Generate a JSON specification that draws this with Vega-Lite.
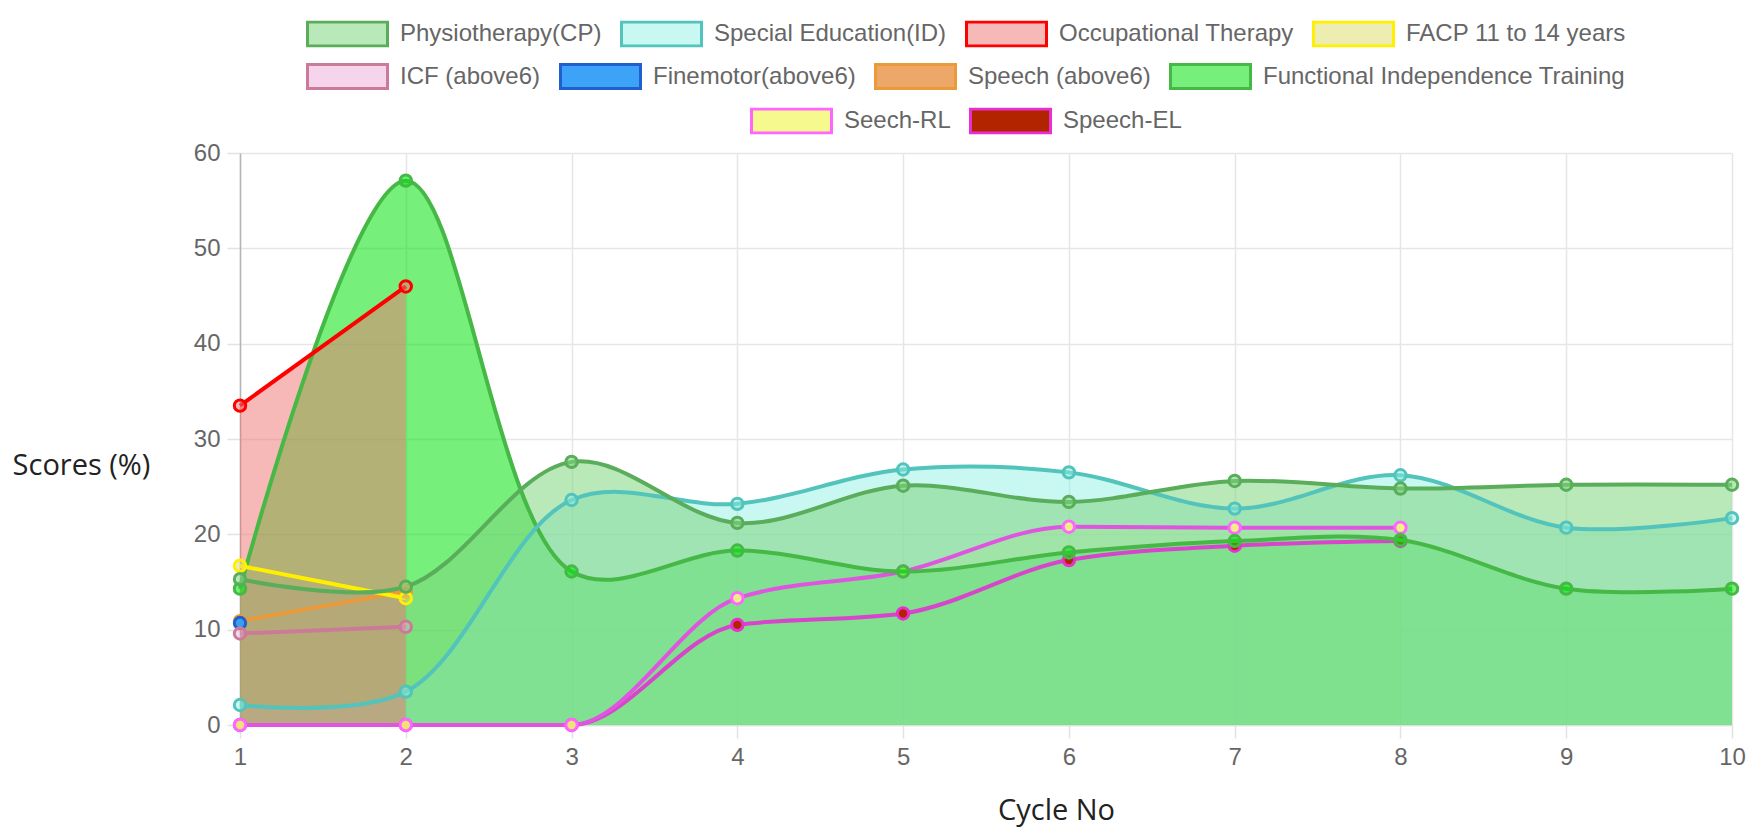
{
  "$schema": "https://vega.github.io/schema/vega-lite/v6.json",
  "width": 1492,
  "height": 572,
  "autosize": "none",
  "padding": {"left": 240, "top": 153, "right": 22, "bottom": 103},
  "background": "white",
  "data": {
    "values": [
      {"series": "Functional Independence Training", "cycle": 1, "value": 14.3},
      {"series": "Functional Independence Training", "cycle": 2, "value": 57.1},
      {"series": "Functional Independence Training", "cycle": 3, "value": 16.1},
      {"series": "Functional Independence Training", "cycle": 4, "value": 18.3},
      {"series": "Functional Independence Training", "cycle": 5, "value": 16.1},
      {"series": "Functional Independence Training", "cycle": 6, "value": 18.1},
      {"series": "Functional Independence Training", "cycle": 7, "value": 19.3},
      {"series": "Functional Independence Training", "cycle": 8, "value": 19.4},
      {"series": "Functional Independence Training", "cycle": 9, "value": 14.3},
      {"series": "Functional Independence Training", "cycle": 10, "value": 14.3},
      {"series": "Speech (above6)", "cycle": 1, "value": 10.9},
      {"series": "Speech (above6)", "cycle": 2, "value": 14.0},
      {"series": "Finemotor(above6)", "cycle": 1, "value": 10.7},
      {"series": "ICF (above6)", "cycle": 1, "value": 9.6},
      {"series": "ICF (above6)", "cycle": 2, "value": 10.3},
      {"series": "FACP 11 to 14 years", "cycle": 1, "value": 16.7},
      {"series": "FACP 11 to 14 years", "cycle": 2, "value": 13.3},
      {"series": "Occupational Therapy", "cycle": 1, "value": 33.5},
      {"series": "Occupational Therapy", "cycle": 2, "value": 46.0},
      {"series": "Special Education(ID)", "cycle": 1, "value": 2.1},
      {"series": "Special Education(ID)", "cycle": 2, "value": 3.5},
      {"series": "Special Education(ID)", "cycle": 3, "value": 23.6},
      {"series": "Special Education(ID)", "cycle": 4, "value": 23.2},
      {"series": "Special Education(ID)", "cycle": 5, "value": 26.8},
      {"series": "Special Education(ID)", "cycle": 6, "value": 26.5},
      {"series": "Special Education(ID)", "cycle": 7, "value": 22.7},
      {"series": "Special Education(ID)", "cycle": 8, "value": 26.2},
      {"series": "Special Education(ID)", "cycle": 9, "value": 20.7},
      {"series": "Special Education(ID)", "cycle": 10, "value": 21.7},
      {"series": "Physiotherapy(CP)", "cycle": 1, "value": 15.3},
      {"series": "Physiotherapy(CP)", "cycle": 2, "value": 14.5},
      {"series": "Physiotherapy(CP)", "cycle": 3, "value": 27.6},
      {"series": "Physiotherapy(CP)", "cycle": 4, "value": 21.2},
      {"series": "Physiotherapy(CP)", "cycle": 5, "value": 25.1},
      {"series": "Physiotherapy(CP)", "cycle": 6, "value": 23.4},
      {"series": "Physiotherapy(CP)", "cycle": 7, "value": 25.6},
      {"series": "Physiotherapy(CP)", "cycle": 8, "value": 24.8},
      {"series": "Physiotherapy(CP)", "cycle": 9, "value": 25.2},
      {"series": "Physiotherapy(CP)", "cycle": 10, "value": 25.2},
      {"series": "Speech-EL", "cycle": 1, "value": 0},
      {"series": "Speech-EL", "cycle": 2, "value": 0},
      {"series": "Speech-EL", "cycle": 3, "value": 0},
      {"series": "Speech-EL", "cycle": 4, "value": 10.5},
      {"series": "Speech-EL", "cycle": 5, "value": 11.7},
      {"series": "Speech-EL", "cycle": 6, "value": 17.3},
      {"series": "Speech-EL", "cycle": 7, "value": 18.8},
      {"series": "Speech-EL", "cycle": 8, "value": 19.3},
      {"series": "Seech-RL", "cycle": 1, "value": 0},
      {"series": "Seech-RL", "cycle": 2, "value": 0},
      {"series": "Seech-RL", "cycle": 3, "value": 0},
      {"series": "Seech-RL", "cycle": 4, "value": 13.3},
      {"series": "Seech-RL", "cycle": 5, "value": 16.1},
      {"series": "Seech-RL", "cycle": 6, "value": 20.8},
      {"series": "Seech-RL", "cycle": 7, "value": 20.7},
      {"series": "Seech-RL", "cycle": 8, "value": 20.7}
    ]
  },
  "config": {
    "view": {"stroke": null},
    "axis": {
      "labelFont": "Liberation Sans",
      "labelFontSize": 24,
      "labelColor": "#666666",
      "labelFlush": false,
      "gridColor": "#e6e6e6",
      "gridWidth": 1.5,
      "tickColor": "#e2e2e2",
      "tickWidth": 1.5,
      "tickSize": 13,
      "titleFont": "Open Sans",
      "titleFontSize": 29,
      "titleFontWeight": "normal",
      "titleColor": "#222222"
    },
    "legend": {
      "labelFont": "Liberation Sans",
      "labelFontSize": 24,
      "labelColor": "#666666",
      "labelLimit": 0,
      "symbolType": "M-1,-0.3H1V0.3H-1Z",
      "symbolSize": 6400,
      "symbolStrokeWidth": 3,
      "labelOffset": 11,
      "columnPadding": 18,
      "padding": 0,
      "clipHeight": 27,
      "title": null,
      "orient": "none",
      "direction": "horizontal"
    }
  },
  "encoding": {
    "x": {
      "field": "cycle",
      "type": "quantitative",
      "scale": {"domain": [1, 10], "nice": false, "zero": false},
      "axis": {
        "values": [1, 2, 3, 4, 5, 6, 7, 8, 9, 10],
        "format": "d",
        "title": "Cycle No",
        "titleX": 816,
        "titleY": 85,
        "titleAlign": "center",
        "titleBaseline": "middle",
        "labelPadding": 7,
        "domainColor": "#dddddd",
        "domainWidth": 1.5,
        "grid": true
      }
    },
    "y": {
      "field": "value",
      "type": "quantitative",
      "stack": null,
      "scale": {"domain": [0, 60], "nice": false},
      "axis": {
        "values": [0, 10, 20, 30, 40, 50, 60],
        "title": "Scores (%)",
        "titleAngle": 0,
        "titleX": -159,
        "titleY": 312,
        "titleAlign": "center",
        "titleBaseline": "middle",
        "labelPadding": 7,
        "domainColor": "#b5b5b5",
        "domainWidth": 1.5,
        "grid": true
      }
    }
  },
  "layer": [
    {
      "transform": [{"filter": "datum.series === 'Seech-RL'"}],
      "mark": {"type": "area", "interpolate": "monotone", "fillOpacity": 0.4},
      "encoding": {
        "fill": {"field": "series", "type": "nominal", "legend": null,
          "scale": {"domain": ["Seech-RL", "Speech-EL"], "range": ["rgba(245,248,130,0.9)", "rgb(178,36,0)"]}}
      }
    },
    {
      "transform": [{"filter": {"field": "series", "oneOf": ["Functional Independence Training", "Special Education(ID)", "Physiotherapy(CP)"]}}],
      "mark": {"type": "area", "interpolate": "catmull-rom"},
      "encoding": {
        "fill": {"field": "series", "type": "nominal", "legend": null,
          "scale": {
            "domain": ["Physiotherapy(CP)", "Special Education(ID)", "Occupational Therapy", "FACP 11 to 14 years", "ICF (above6)", "Finemotor(above6)", "Speech (above6)", "Functional Independence Training"],
            "range": ["rgba(128,213,128,0.55)", "rgba(140,238,225,0.47)", "rgba(240,113,113,0.5)", "rgba(220,220,100,0.5)", "rgba(235,160,210,0.45)", "rgba(50,158,245,0.95)", "rgba(230,130,40,0.7)", "rgba(10,228,20,0.56)"]}}
      }
    },
    {
      "transform": [{"filter": "datum.series === 'Occupational Therapy'"}],
      "mark": {"type": "area", "interpolate": "catmull-rom"},
      "encoding": {
        "fill": {"field": "series", "type": "nominal", "legend": null,
          "scale": {
            "domain": ["Physiotherapy(CP)", "Special Education(ID)", "Occupational Therapy", "FACP 11 to 14 years", "ICF (above6)", "Finemotor(above6)", "Speech (above6)", "Functional Independence Training"],
            "range": ["rgba(128,213,128,0.55)", "rgba(140,238,225,0.47)", "rgba(240,113,113,0.5)", "rgba(220,220,100,0.5)", "rgba(235,160,210,0.45)", "rgba(50,158,245,0.95)", "rgba(230,130,40,0.7)", "rgba(10,228,20,0.56)"]}}
      }
    },
    {
      "transform": [{"filter": {"field": "series", "oneOf": ["Seech-RL", "Speech-EL"]}}],
      "mark": {"type": "line", "interpolate": "monotone", "strokeWidth": 4},
      "encoding": {
        "stroke": {"field": "series", "type": "nominal", "legend": null,
          "scale": {"domain": ["Seech-RL", "Speech-EL"], "range": ["#e055e0", "#d844cc"]}}
      }
    },
    {
      "transform": [{"filter": {"field": "series", "oneOf": ["Seech-RL", "Speech-EL"]}}],
      "mark": {"type": "circle", "size": 130, "strokeWidth": 3, "opacity": 1},
      "encoding": {
        "fill": {"field": "series", "type": "nominal",
          "scale": {"domain": ["Seech-RL", "Speech-EL"], "range": ["rgba(245,248,130,0.9)", "rgb(178,36,0)"]},
          "legend": {"legendX": 510, "legendY": -45.5}},
        "stroke": {"field": "series", "type": "nominal",
          "scale": {"domain": ["Seech-RL", "Speech-EL"], "range": ["#ff66ff", "#e830d0"]},
          "legend": {"legendX": 510, "legendY": -45.5}}
      }
    },
    {
      "transform": [{"filter": {"field": "series", "oneOf": ["Physiotherapy(CP)", "Special Education(ID)", "Occupational Therapy", "FACP 11 to 14 years", "ICF (above6)", "Finemotor(above6)", "Speech (above6)", "Functional Independence Training"]}}],
      "mark": {"type": "line", "interpolate": "catmull-rom", "strokeWidth": 4},
      "encoding": {
        "stroke": {"field": "series", "type": "nominal", "legend": null,
          "scale": {
            "domain": ["Physiotherapy(CP)", "Special Education(ID)", "Occupational Therapy", "FACP 11 to 14 years", "ICF (above6)", "Finemotor(above6)", "Speech (above6)", "Functional Independence Training"],
            "range": ["#5aad5a", "#52c4bb", "#ff0000", "#fff000", "#cc7a99", "#1f5fd0", "#eb9a3a", "#45b845"]}}
      }
    },
    {
      "transform": [{"filter": {"field": "series", "oneOf": ["ICF (above6)", "Finemotor(above6)", "Speech (above6)", "Functional Independence Training"]}}],
      "mark": {"type": "circle", "size": 130, "strokeWidth": 3, "opacity": 1},
      "encoding": {
        "fill": {"field": "series", "type": "nominal",
          "scale": {
            "domain": ["ICF (above6)", "Finemotor(above6)", "Speech (above6)", "Functional Independence Training"],
            "range": ["rgba(235,160,210,0.45)", "rgba(50,158,245,0.95)", "rgba(230,130,40,0.7)", "rgba(10,228,20,0.56)"]},
          "legend": {"legendX": 66, "legendY": -90}},
        "stroke": {"field": "series", "type": "nominal",
          "scale": {
            "domain": ["ICF (above6)", "Finemotor(above6)", "Speech (above6)", "Functional Independence Training"],
            "range": ["#cc7a99", "#1f5fd0", "#eb9a3a", "#45b845"]},
          "legend": {"legendX": 66, "legendY": -90}}
      }
    },
    {
      "transform": [{"filter": {"field": "series", "oneOf": ["Physiotherapy(CP)", "Special Education(ID)", "Occupational Therapy", "FACP 11 to 14 years"]}}],
      "mark": {"type": "circle", "size": 130, "strokeWidth": 3, "opacity": 1},
      "encoding": {
        "fill": {"field": "series", "type": "nominal",
          "scale": {
            "domain": ["Physiotherapy(CP)", "Special Education(ID)", "Occupational Therapy", "FACP 11 to 14 years"],
            "range": ["rgba(128,213,128,0.55)", "rgba(140,238,225,0.47)", "rgba(240,113,113,0.5)", "rgba(220,220,100,0.5)"]},
          "legend": {"legendX": 66, "legendY": -132.5}},
        "stroke": {"field": "series", "type": "nominal",
          "scale": {
            "domain": ["Physiotherapy(CP)", "Special Education(ID)", "Occupational Therapy", "FACP 11 to 14 years"],
            "range": ["#5aad5a", "#52c4bb", "#ff0000", "#fff000"]},
          "legend": {"legendX": 66, "legendY": -132.5}}
      }
    }
  ],
  "resolve": {
    "scale": {"fill": "independent", "stroke": "independent"},
    "legend": {"fill": "independent", "stroke": "independent"}
  }
}
